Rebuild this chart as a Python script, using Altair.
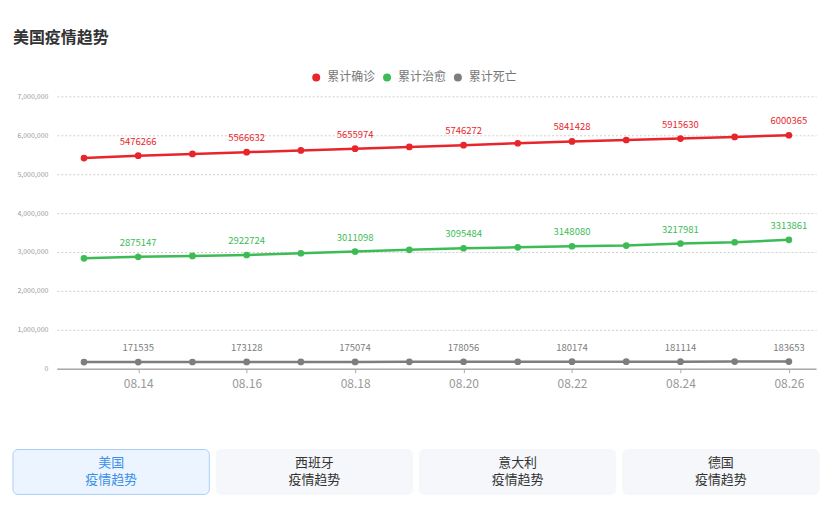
import altair as alt
import pandas as pd

dates = ["08.13", "08.14", "08.15", "08.16", "08.17", "08.18", "08.19",
         "08.20", "08.21", "08.22", "08.23", "08.24", "08.25", "08.26"]
confirmed = [5415000, 5476266, 5520000, 5566632, 5611000, 5655974, 5700000,
             5746272, 5795000, 5841428, 5878000, 5915630, 5958000, 6000365]
recovered = [2838000, 2875147, 2898000, 2922724, 2967000, 3011098, 3055000,
             3095484, 3120000, 3148080, 3165000, 3217981, 3250000, 3313861]
deaths = [170000, 171535, 172400, 173128, 174200, 175074, 176600,
          178056, 179200, 180174, 180700, 181114, 182600, 183653]
series_names = ["累计确诊", "累计治愈", "累计死亡"]
series_colors = ["#e8252b", "#3dbb55", "#7d7d7d"]
y_ticks = [0, 1000000, 2000000, 3000000, 4000000, 5000000, 6000000, 7000000]
x_ticks = dates[1::2]

countries = ["美国", "西班牙", "意大利", "德国"]
selected = [True, False, False, False]

FONT = "Noto Sans CJK SC"

rows = []
for name, vals in zip(series_names, [confirmed, recovered, deaths]):
    for i, (d, v) in enumerate(zip(dates, vals)):
        rows.append({"date": d, "series": name, "value": v, "idx": i})
df = pd.DataFrame(rows)

btn_df = pd.DataFrame({
    "country": countries,
    "label": [c + "\n疫情趋势" for c in countries],
    "selected": selected,
})

x_enc = alt.X("date:O", sort=dates,
              scale=alt.Scale(type="point", padding=0.5),
              axis=alt.Axis(values=x_ticks, labelAngle=0, labelFontSize=12,
                            labelColor="#999", domainColor="#aaa", domainWidth=1.5,
                            tickColor="#aaa", tickSize=4, labelPadding=6,
                            grid=False, title=None, labelFont=FONT))
y_enc = alt.Y("value:Q", scale=alt.Scale(domain=[0, 7000000], nice=False),
              axis=alt.Axis(values=y_ticks, format=",d", labelFontSize=7,
                            labelColor="#999", grid=True, gridDash=[2, 2],
                            gridColor="#cfcfcf", domain=False, ticks=False,
                            labelPadding=9, minExtent=57, maxExtent=57,
                            title=None, labelFont=FONT))
color_enc = alt.Color(
    "series:N", scale=alt.Scale(domain=series_names, range=series_colors),
    sort=series_names,
    legend=alt.Legend(orient="none", legendX=254, legendY=-25,
                      direction="horizontal", title=None,
                      labelFontSize=12, labelColor="#777",
                      labelFont=FONT, symbolSize=64,
                      symbolType="circle", columnPadding=5,
                      labelOffset=5, symbolStrokeWidth=0),
)

base = alt.Chart(df)

lines = base.mark_line(strokeWidth=2.5).encode(x=x_enc, y=y_enc, color=color_enc)
points = base.mark_circle(size=45, opacity=1).encode(x=x_enc, y=y_enc, color=color_enc)
labels = base.transform_filter("datum.idx % 2 == 1").mark_text(
    fontSize=9.5, dy=-14, baseline="middle", font=FONT
).encode(
    x=x_enc, y=y_enc, text=alt.Text("value:Q", format="d"), color=color_enc,
)

main = alt.layer(lines, points, labels).properties(width=761, height=273)

btn_x = alt.X("country:N", sort=countries, axis=None,
              scale=alt.Scale(range=[-44, 764], paddingInner=0.034, paddingOuter=0))
rects = alt.Chart(btn_df).mark_rect(cornerRadius=5, strokeWidth=1).encode(
    x=btn_x,
    fill=alt.condition("datum.selected", alt.value("#ecf5ff"), alt.value("#f5f7fa")),
    stroke=alt.condition("datum.selected", alt.value("#a9cff3"), alt.value("#f5f7fa")),
)
texts = alt.Chart(btn_df).mark_text(
    lineBreak="\n", fontSize=13, lineHeight=17, baseline="middle", font=FONT
).encode(
    x=btn_x, y=alt.value(14),
    text="label:N",
    color=alt.condition("datum.selected", alt.value("#3b8fe8"), alt.value("#333333")),
)
buttons = alt.layer(rects, texts).properties(width=761, height=45)

chart = alt.vconcat(main, buttons, spacing=59).properties(
    title=alt.Title("美国疫情趋势", anchor="start", dx=13, fontSize=16,
                    fontWeight="bold", color="#333", offset=26, font=FONT),
    padding={"left": 0, "top": 29, "right": 0, "bottom": 0},
).configure(font=FONT).configure_view(stroke=None)

chart.save("out.html", embed_options={"renderer": "svg", "actions": False})
